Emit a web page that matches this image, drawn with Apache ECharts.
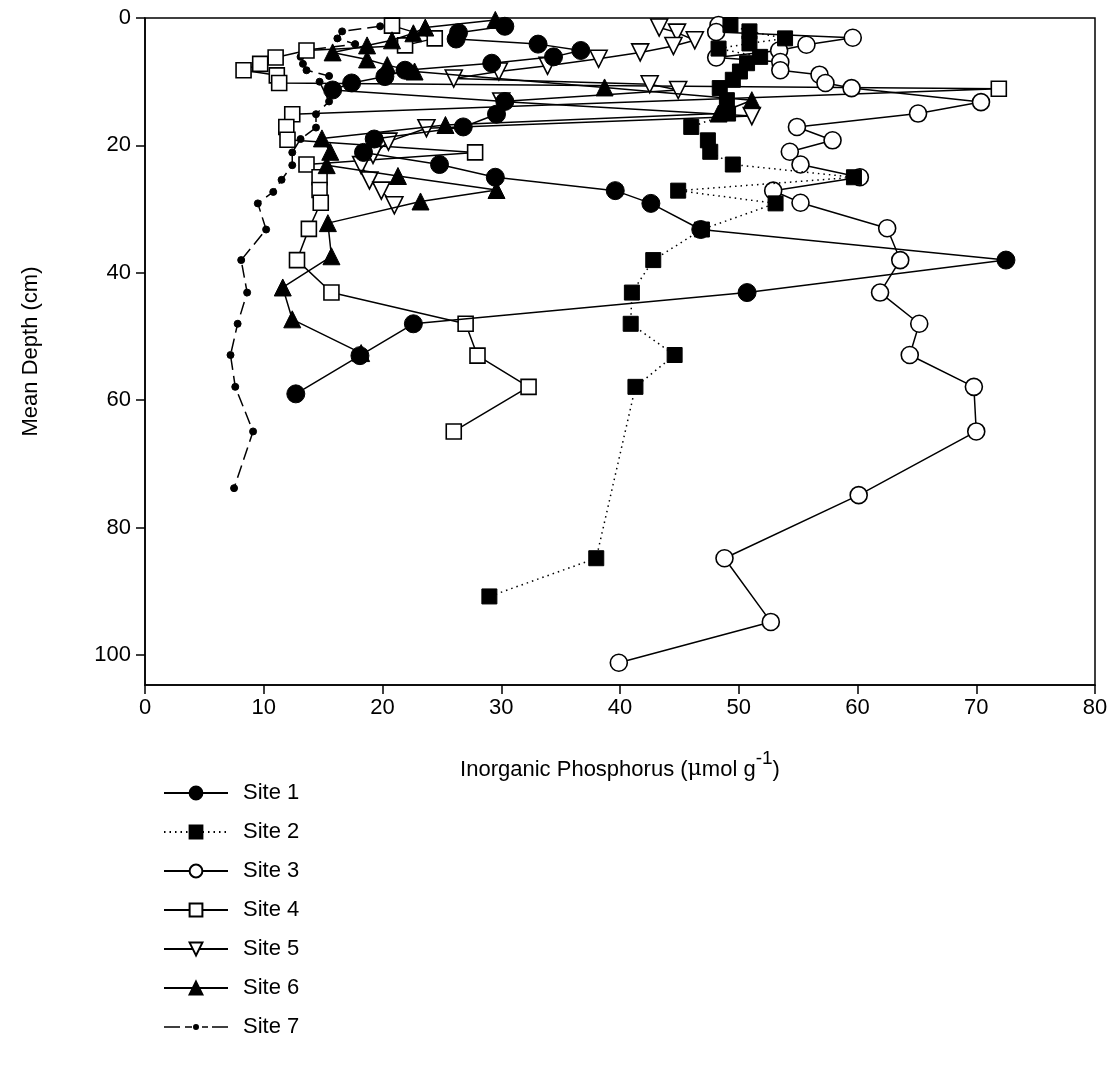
<!DOCTYPE html>
<html>
<head>
<meta charset="utf-8">
<script src="https://cdn.jsdelivr.net/npm/echarts@6/dist/echarts.min.js"></script>
<style>
html,body{margin:0;padding:0;background:#fff;}
#chart{width:1120px;height:1071px;}
</style>
</head>
<body>
<div id="chart"></div>
<script>
// ---- data (x = Inorganic P, depth = mean depth cm) ----
const site1Depth = [1.3,2.3,3.3,4.1,5.1,6.1,7.1,8.2,9.2,10.2,11.3,13.1,15.1,17.1,19.0,21.1,23.0,25.0,27.1,29.1,33.2,38.0,43.1,48.0,53.0,59.0];
const site1P     = [30.3,26.4,26.2,33.1,36.7,34.4,29.2,21.9,20.2,17.4,15.8,30.3,29.6,26.8,19.3,18.4,24.8,29.5,39.6,42.6,46.8,72.5,50.7,22.6,18.1,12.7];

const site2Depth = [1.1,2.1,3.2,4.0,4.8,6.1,7.1,8.4,9.7,11.0,12.9,15.0,17.1,19.2,21.0,23.0,25.0,27.1,29.1,33.2,38.0,43.1,48.0,52.9,57.9,84.8,90.8];
const site2P     = [49.3,50.9,53.9,50.9,48.3,51.8,50.7,50.1,49.5,48.4,49.0,49.1,46.0,47.4,47.6,49.5,59.7,44.9,53.1,46.9,42.8,41.0,40.9,44.6,41.3,38.0,29.0];

const site3Depth = [1.1,2.2,3.1,4.2,5.1,6.2,6.9,8.2,8.9,10.2,11.0,13.2,15.0,17.1,19.2,21.0,23.0,25.0,27.1,29.0,33.0,38.0,43.1,48.0,52.9,57.9,64.9,74.9,84.8,94.8,101.2];
const site3P     = [48.3,48.1,59.6,55.7,53.4,48.1,53.5,53.5,56.8,57.3,59.5,70.4,65.1,54.9,57.9,54.3,55.2,60.2,52.9,55.2,62.5,63.6,61.9,65.2,64.4,69.8,70.0,60.1,48.8,52.7,39.9];

const site4Depth = [1.2,3.2,4.3,5.1,6.2,7.2,8.2,9.0,10.2,11.1,15.1,17.1,19.1,21.1,23.0,25.0,27.0,29.0,33.1,38.0,43.1,48.0,53.0,57.9,64.9];
const site4P     = [20.8,24.4,21.9,13.6,11.0,9.7,8.3,11.1,11.3,71.9,12.4,11.9,12.0,27.8,13.6,14.7,14.7,14.8,13.8,12.8,15.7,27.0,28.0,32.3,26.0];

const site5Depth = [1.5,2.3,3.5,4.4,5.4,6.4,7.5,8.4,9.5,10.4,11.3,13.1,15.4,17.3,19.4,21.5,23.1,25.5,27.1,29.4];
const site5P     = [43.3,44.8,46.3,44.5,41.7,38.2,33.9,29.8,26.0,42.5,44.9,30.0,51.1,23.7,20.5,19.2,18.2,18.9,19.9,21.0];

const site6Depth = [0.3,1.5,2.4,3.5,4.3,5.4,6.5,7.4,8.4,10.9,12.9,15.0,16.8,18.9,21.0,23.1,24.8,27.0,28.8,32.2,37.4,42.3,47.3,52.6];
const site6P     = [29.5,23.6,22.6,20.8,18.7,15.8,18.7,20.4,22.7,38.7,51.1,48.3,25.3,14.9,15.6,15.3,21.3,29.6,23.2,15.4,15.7,11.6,12.4,18.2];

const site7Depth = [1.3,2.1,3.2,4.1,5.1,6.1,7.2,8.2,9.1,10.0,13.1,15.1,17.2,19.0,21.1,23.1,25.4,27.3,29.1,33.2,38.0,43.1,48.0,52.9,57.9,64.9,73.8];
const site7P     = [19.8,16.6,16.2,17.7,13.3,13.1,13.3,13.6,15.5,14.7,15.5,14.4,14.4,13.1,12.4,12.4,11.5,10.8,9.5,10.2,8.1,8.6,7.8,7.2,7.6,9.1,7.5];

const siteNames = ['Site 1','Site 2','Site 3','Site 4','Site 5','Site 6','Site 7'];
const xTicks = [0,10,20,30,40,50,60,70,80];
const yTicks = [0,20,40,60,80,100];

// ---- build ----
const FONT = 'Liberation Sans, Arial, sans-serif';
function pairs(p, d){ return p.map((v,i)=>[v, d[i]]); }

function mk(name, p, d, sym, size, filled, opts){
  opts = opts || {};
  return Object.assign({
    name: name,
    type: 'line',
    data: pairs(p, d),
    symbol: sym,
    symbolSize: size,
    showSymbol: true,
    showAllSymbol: true,
    smooth: false,
    animation: false,
    itemStyle: filled ? {color:'#000', borderColor:'#000', borderWidth:1}
                      : {color:'#fff', borderColor:'#000', borderWidth:1.6},
    lineStyle: {color:'#000', width:1.5, type:'solid'},
    emphasis: {disabled:true}
  }, opts);
}

const series = [
  mk('Site 7', site7P, site7Depth, 'circle', 7, true, {lineStyle:{color:'#000', width:1.5, type:[13,6]}, z:1}),
  mk('Site 4', site4P, site4Depth, 'rect', 15, false, {z:2}),
  mk('Site 5', site5P, site5Depth, 'triangle', 17, false, {symbolRotate:180, z:2}),
  mk('Site 3', site3P, site3Depth, 'circle', 17, false, {z:2}),
  mk('Site 2', site2P, site2Depth, 'rect', 15, true, {lineStyle:{color:'#000', width:1.5, type:[1.5,4]}, z:3}),
  mk('Site 6', site6P, site6Depth, 'triangle', 17, true, {z:3}),
  mk('Site 1', site1P, site1Depth, 'circle', 18, true, {z:3})
];

// legend icon for Site 7: dashed line with a small dot (tiny corner specks keep a 64x16 box so it is not stretched)
const site7Icon = 'path://M0,0h0.01v0.01h-0.01z M63.99,15.99h0.01v0.01h-0.01z M0,7.25h16v1.5h-16z M21,7.25h7v1.5h-7z M32,8m-3,0a3,3 0 1,0 6,0a3,3 0 1,0 -6,0z M38,7.25h6v1.5h-6z M48,7.25h16v1.5h-16z';
const legendData = siteNames.map(n => n === 'Site 7'
  ? {name:n, icon:site7Icon, itemStyle:{color:'#000', borderWidth:0, borderColor:'transparent'}}
  : {name:n});

const chart = echarts.init(document.getElementById('chart'), null, {renderer:'canvas'});
chart.setOption({
  backgroundColor: '#fff',
  textStyle: {fontFamily: FONT},
  grid: {left:145, top:18, width:950, height:667, show:true, borderColor:'#000', borderWidth:1.5, backgroundColor:'transparent'},
  xAxis: {
    type:'value', min:0, max:80, interval:10,
    axisLine:{show:true, onZero:false, lineStyle:{color:'#000', width:1.5}},
    axisTick:{show:true, inside:false, length:9, lineStyle:{color:'#000', width:1.5}, customValues:xTicks},
    axisLabel:{fontSize:22, color:'#000', margin:12, fontFamily:FONT, customValues:xTicks,
      formatter: v => xTicks.indexOf(v) >= 0 ? String(v) : ''},
    splitLine:{show:false},
    name:'{a|Inorganic Phosphorus (}{mu|μ}{a|mol g}{sup|-1}{a|)}',
    nameLocation:'middle', nameGap:64,
    nameTextStyle:{color:'#000', fontFamily:FONT, rich:{
      a:{fontSize:22, color:'#000', fontFamily:FONT},
      mu:{fontSize:22, color:'#000', fontFamily:'DejaVu Serif, serif'},
      sup:{fontSize:19, color:'#000', fontFamily:FONT, padding:[0,0,22,0]}
    }}
  },
  yAxis: {
    type:'value', inverse:true, min:0, max:104.7, interval:20,
    axisLine:{show:true, onZero:false, lineStyle:{color:'#000', width:1.5}},
    axisTick:{show:true, inside:false, length:9, lineStyle:{color:'#000', width:1.5}, customValues:yTicks},
    axisLabel:{fontSize:22, color:'#000', margin:14, fontFamily:FONT, customValues:yTicks,
      formatter: v => yTicks.indexOf(v) >= 0 ? String(v) : ''},
    splitLine:{show:false},
    name:'Mean Depth (cm)', nameLocation:'middle', nameGap:103, nameRotate:90,
    nameTextStyle:{fontSize:22, color:'#000', fontFamily:FONT}
  },
  legend: {
    data: legendData,
    orient:'vertical', left:158, top:777,
    itemWidth:64, itemHeight:16, itemGap:17,
    selectedMode:false,
    textStyle:{fontSize:22, color:'#000', fontFamily:FONT, lineHeight:22, padding:[0,0,0,10]}
  },
  series: series
});
</script>
</body>
</html>
